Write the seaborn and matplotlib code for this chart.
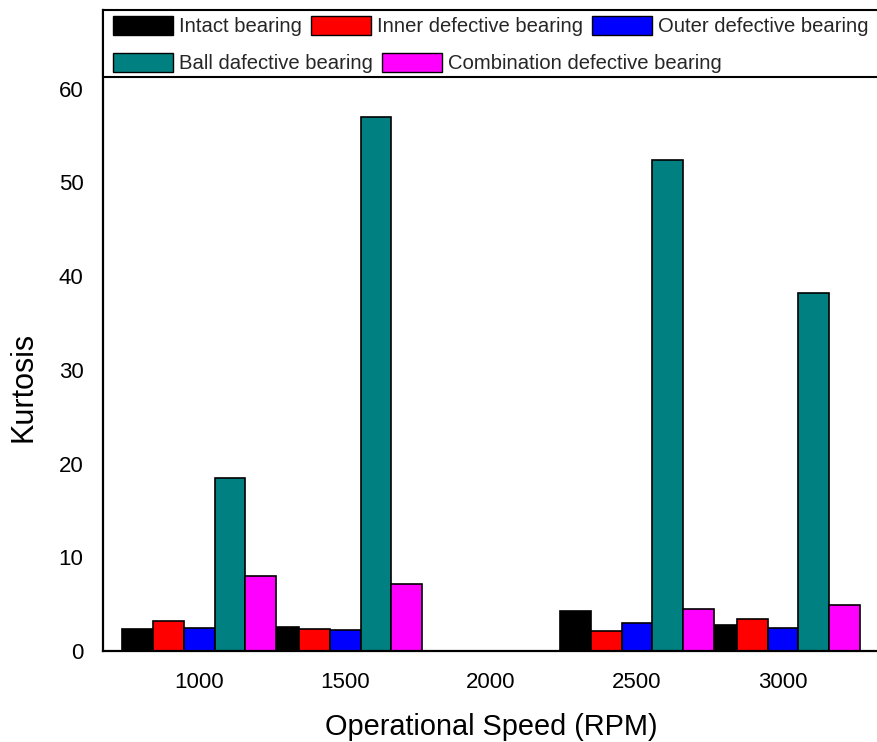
import matplotlib
matplotlib.use("Agg")
import matplotlib.pyplot as plt
import seaborn as sns
import pandas as pd
import numpy as np
from matplotlib.patches import Patch, Rectangle

# ---- data ----
speeds = ["1000", "1500", "2000", "2500", "3000"]
series_names = ["Intact bearing", "Inner defective bearing", "Outer defective bearing",
                "Ball dafective bearing", "Combination defective bearing"]
intact = [2.35, 2.53, np.nan, 4.30, 2.74]
inner = [3.20, 2.38, np.nan, 2.13, 3.38]
outer = [2.42, 2.27, np.nan, 2.99, 2.45]
ball = [18.5, 57.0, np.nan, 52.4, 38.2]
combination = [8.0, 7.15, np.nan, 4.45, 4.94]
colors = ["#000000", "#FF0000", "#0000FF", "#008080", "#FF00FF"]
yticks = [0, 10, 20, 30, 40, 50, 60]

rows = []
for name, vals in zip(series_names, [intact, inner, outer, ball, combination]):
    for s, v in zip(speeds, vals):
        if not np.isnan(v):
            rows.append({"Speed": s, "Kurtosis": v, "Bearing": name})
df = pd.DataFrame(rows)

sns.set_theme(style="white")
plt.rcParams["font.family"] = ["Liberation Sans", "DejaVu Sans"]

W, H = 877, 742
fig = plt.figure(figsize=(W / 100, H / 100), dpi=100)
ax = fig.add_axes([103 / W, (H - 651) / H, 1 - 103 / W, (651 - 10) / H])

sns.barplot(data=df, x="Speed", y="Kurtosis", hue="Bearing", order=speeds,
            hue_order=series_names, palette=colors, width=1.06, dodge=True,
            gap=0, saturation=1, edgecolor="black", linewidth=1.2,
            errorbar=None, legend=False, ax=ax)

ax.set_xlim(-0.658, 4.644)
ax.set_ylim(0, 68.4)
ax.set_yticks(yticks)
ax.set_yticklabels([str(t) for t in yticks])

for side in ["top", "right"]:
    ax.spines[side].set_visible(False)
for side in ["left", "bottom"]:
    ax.spines[side].set_color("black")
    ax.spines[side].set_linewidth(1.6)

ax.tick_params(axis="both", direction="out", length=8, width=1.5, color="black",
               labelsize=16, labelcolor="black")
ax.tick_params(axis="y", pad=6)
ax.tick_params(axis="x", pad=7)

ax.set_xlabel("Operational Speed (RPM)", fontsize=20.8, color="black")
ax.set_ylabel("Kurtosis", fontsize=22, color="black")
ax.xaxis.set_label_coords((491 - 103) / 774, (651 - 713) / 641)
ax.yaxis.set_label_coords((38 - 103) / 774, (651 - 387) / 641)

# legend frame
frame = Rectangle((103 / W, (H - 77) / H), 1.0, 67 / H, transform=fig.transFigure,
                  facecolor="white", edgecolor="black", linewidth=1.5, clip_on=False,
                  zorder=5)
fig.add_artist(frame)

handles = [Patch(facecolor=c, edgecolor="black", linewidth=1.0) for c in colors]
leg_kw = dict(frameon=False, fontsize=14.6, handlelength=2.95, handleheight=1.1,
              handletextpad=0.3, columnspacing=0.45, borderpad=0, borderaxespad=0,
              loc="center left", bbox_transform=fig.transFigure)
leg1 = fig.legend(handles[:3], series_names[:3], ncol=3,
                  bbox_to_anchor=(113 / W, (H - 26) / H), **leg_kw)
leg2 = fig.legend(handles[3:], series_names[3:], ncol=2,
                  bbox_to_anchor=(113 / W, (H - 63) / H), **leg_kw)
leg1.set_zorder(6)
leg2.set_zorder(6)

fig.savefig("out.png", dpi=100, facecolor="white")
